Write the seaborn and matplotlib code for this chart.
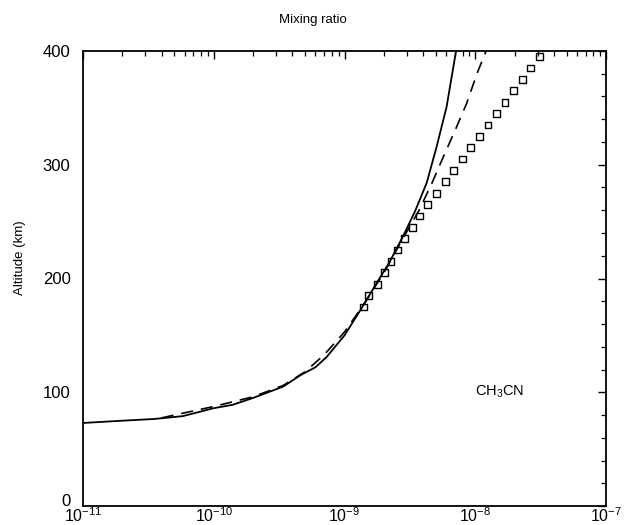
import numpy as np
import pandas as pd
import seaborn as sns
import matplotlib.pyplot as plt
from matplotlib.ticker import LogLocator, MultipleLocator, FixedLocator, FixedFormatter
from matplotlib.transforms import ScaledTranslation

# Model profiles (mixing ratio vs altitude)
solid_mr = [1.0e-11, 2.0e-11, 3.5e-11, 5.8e-11, 1.0e-10, 1.4e-10, 2.0e-10, 3.4e-10,
            4.6e-10, 6.0e-10, 7.3e-10, 1.0e-9, 1.32e-9, 1.7e-9, 2.2e-9, 2.8e-9,
            3.46e-9, 4.25e-9, 5.07e-9, 6.04e-9, 7.13e-9]
solid_alt = [73, 75, 76.5, 79, 86, 89, 95, 105, 115, 122, 131, 150, 172, 193, 214,
             237, 259, 284, 316, 351, 400]

dashed_mr = [4.0e-11, 1.0e-10, 2.0e-10, 3.4e-10, 5.0e-10, 7.0e-10, 1.0e-9, 1.4e-9,
             2.0e-9, 2.7e-9, 3.72e-9, 4.67e-9, 5.7e-9, 7.0e-9, 8.6e-9, 1.03e-8, 1.21e-8]
dashed_alt = [77.5, 87.5, 96, 106, 118, 133, 153, 177, 205, 232, 260, 284, 307, 330,
              354, 380, 400]

# Square markers
obs_alt = [175, 185, 195, 205, 215, 225, 235, 245, 255, 265, 275, 285, 295, 305,
           315, 325, 335, 345, 355, 365, 375, 385, 395]
obs_mr = [1.39e-9, 1.52e-9, 1.78e-9, 2.01e-9, 2.27e-9, 2.56e-9, 2.88e-9, 3.30e-9,
          3.72e-9, 4.34e-9, 5.07e-9, 5.89e-9, 6.85e-9, 7.96e-9, 9.25e-9, 1.08e-8,
          1.25e-8, 1.45e-8, 1.69e-8, 1.97e-8, 2.29e-8, 2.64e-8, 3.08e-8]

xticks = [1e-11, 1e-10, 1e-9, 1e-8, 1e-7]
xtick_labels = ['$10^{-11}$', '$10^{-10}$', '$10^{-9}$', '$10^{-8}$', '$10^{-7}$']
yticks = [0, 100, 200, 300, 400]

sns.set_style('white')
plt.rcParams['font.family'] = ['Liberation Sans', 'DejaVu Sans']
plt.rcParams['mathtext.default'] = 'regular'
plt.rcParams['text.color'] = 'black'
plt.rcParams['axes.labelcolor'] = 'black'
plt.rcParams['xtick.color'] = 'black'
plt.rcParams['ytick.color'] = 'black'

fig = plt.figure(figsize=(6.25, 5.25), dpi=100)
ax = fig.add_axes([83 / 625, 1 - 506 / 525, 523 / 625, 455 / 525])

sns.lineplot(x=solid_mr, y=solid_alt, estimator=None, sort=False, color='black',
             linewidth=1.3, ax=ax)
sns.lineplot(x=dashed_mr, y=dashed_alt, estimator=None, sort=False, color='black',
             linewidth=1.2, linestyle=(0, (7.2, 4.8)), ax=ax)
sns.scatterplot(x=obs_mr, y=obs_alt, marker='s', s=24, facecolor='none',
                edgecolor='black', linewidth=1.0, ax=ax)

ax.set_xscale('log')
ax.set_xlim(1e-11, 1e-7)
ax.set_ylim(0, 400)

ax.xaxis.set_major_locator(FixedLocator(xticks))
ax.xaxis.set_major_formatter(FixedFormatter(xtick_labels))
ax.xaxis.set_minor_locator(LogLocator(base=10, subs=np.arange(2, 10), numticks=20))
ax.yaxis.set_major_locator(FixedLocator(yticks))
ax.yaxis.set_minor_locator(MultipleLocator(20))

ax.tick_params(which='both', direction='in', top=True, right=True)
ax.tick_params(which='major', length=6, width=1.0)
ax.tick_params(which='minor', length=3.5, width=0.9)
ax.tick_params(axis='y', which='major', labelsize=12, pad=9)
ax.tick_params(axis='x', which='major', labelsize=11.5, pad=0)
ax.tick_params(axis='x', which='minor', labelbottom=False)

# nudge the "0" label up a little so it clears the 10^-11 label
zero_lbl = ax.yaxis.get_major_ticks()[0].label1
zero_lbl.set_transform(zero_lbl.get_transform() + ScaledTranslation(0, 0.06, fig.dpi_scale_trans))

for sp in ax.spines.values():
    sp.set_visible(True)
    sp.set_color('black')
    sp.set_linewidth(1.3)

ax.set_ylabel('Altitude (km)', fontsize=9.5, va='center')
ax.yaxis.set_label_coords(-0.12, 0.545)
ax.set_xlabel('')

ax.text(1.0e-8, 100, 'CH$_3$CN', fontsize=10.5, ha='left', va='center')
fig.text(0.5, 1 - 20 / 525, 'Mixing ratio', fontsize=9.5, ha='center', va='center')

fig.savefig('out.png', dpi=100)
